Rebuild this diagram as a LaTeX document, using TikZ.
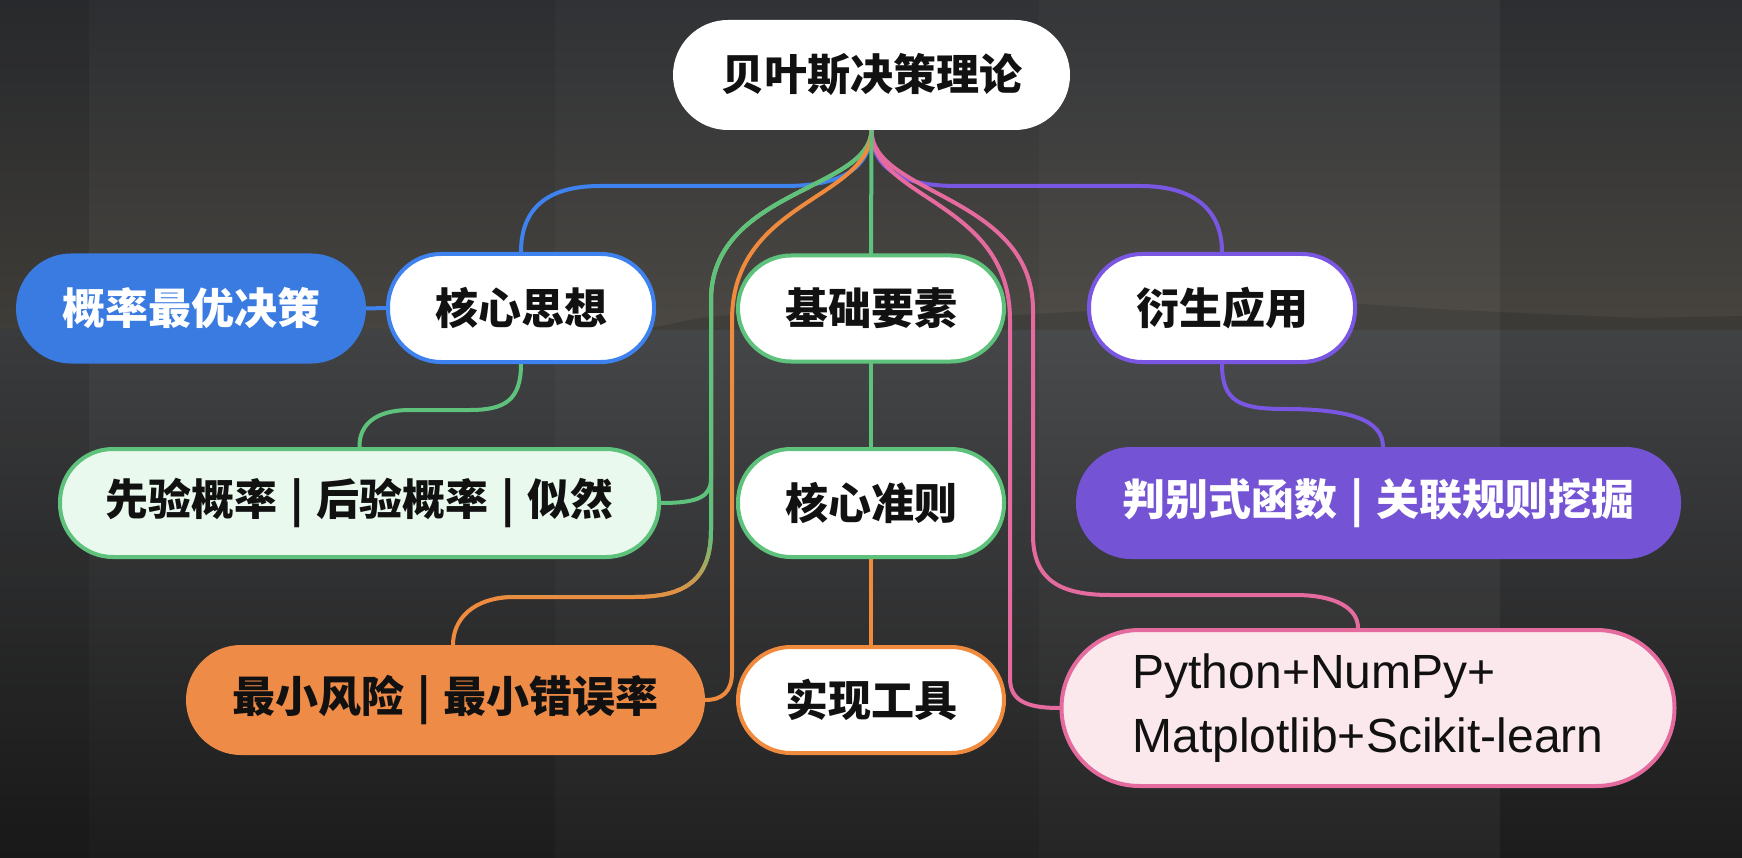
\documentclass[tikz,border=0pt]{standalone}
\usepackage{fontspec}
\setmainfont{Noto Sans CJK SC}
\newfontfamily\latinf{Liberation Sans}
\pgfdeclarelayer{bgimg}
\pgfdeclarelayer{links}
\pgfsetlayers{bgimg,links,main}
\definecolor{cblue}{HTML}{3D82EE}
\definecolor{cbluefill}{HTML}{3A7BE2}
\definecolor{cgreen}{HTML}{5EC27C}
\definecolor{cgreenfill}{HTML}{EAF9EE}
\definecolor{corange}{HTML}{F08B3E}
\definecolor{corangefill}{HTML}{EE8B47}
\definecolor{cpurple}{HTML}{7A57E3}
\definecolor{cpurplefill}{HTML}{7453D4}
\definecolor{cpink}{HTML}{E56B9F}
\definecolor{cpinkfill}{HTML}{FBE8ED}
\definecolor{ctext}{HTML}{111111}
\definecolor{bgtop}{HTML}{2C2E31}
\definecolor{bghor}{HTML}{47443F}
\definecolor{bgwater}{HTML}{414244}
\definecolor{bgbot}{HTML}{1C1C1C}
\definecolor{bgmount}{HTML}{3A3835}
\newcommand\cjkbig{\fontsize{43}{50}\selectfont\bfseries}
\newcommand\mysep{\hspace{13pt}|\hspace{13pt}}
\tikzset{
  pill/.style={rectangle, rounded corners=53pt, minimum height=106pt, inner sep=0pt,
    line width=4pt, font=\cjkbig, text=ctext},
  link/.style={line width=4pt, line cap=round}
}
\begin{document}
\begin{tikzpicture}[x=1pt,y=-1pt]
\useasboundingbox (0,0) rectangle (1742,858);
% background
\begin{pgfonlayer}{bgimg}
\shade[top color=bgtop, bottom color=bghor] (0,0) rectangle (1742,330);
\shade[top color=bgwater, bottom color=bgbot] (0,330) rectangle (1742,858);
\fill[bgmount, opacity=0.8] (640,330) -- (700,318) -- (760,312) -- (820,318) -- (1000,316) -- (1180,306) -- (1300,300) -- (1420,308) -- (1540,314) -- (1640,318) -- (1742,316) -- (1742,330) -- cycle;
\fill[black, opacity=0.10] (0,0) rectangle (89,858);
\fill[white, opacity=0.025] (555,0) rectangle (1039,858);
\fill[white, opacity=0.045] (1039,0) rectangle (1500,858);
\end{pgfonlayer}

% nodes
\node[pill, draw=white, fill=white, minimum width=393pt] (root) at (871.5,75) {贝叶斯决策理论};
\node[pill, draw=cbluefill, fill=cbluefill, text=white, minimum width=346pt] (gailv) at (191,308.5) {概率最优决策};
\node[pill, draw=cblue, fill=white, minimum width=266pt, minimum height=108pt] (hexin) at (521,308) {核心思想};
\node[pill, draw=cgreen, fill=white, minimum width=266pt] (jichu) at (871,308.5) {基础要素};
\node[pill, draw=cpurple, fill=white, minimum width=266pt, minimum height=108pt] (yansheng) at (1222,308) {衍生应用};
\node[pill, draw=cgreen, fill=cgreenfill, minimum width=599pt, minimum height=108pt] (xianyan) at (359.5,503) {先验概率\mysep 后验概率\mysep 似然};
\node[pill, draw=cgreen, fill=white, minimum width=266pt, minimum height=108pt] (zhunze) at (871,503) {核心准则};
\node[pill, draw=cpurplefill, fill=cpurplefill, text=white, minimum width=601pt, minimum height=108pt] (panbie) at (1378.5,503) {判别式函数\mysep 关联规则挖掘};
\node[pill, draw=corangefill, fill=corangefill, minimum width=515pt] (zuixiao) at (445.5,700) {最小风险\mysep 最小错误率};
\node[pill, draw=corange, fill=white, minimum width=266pt] (shixian) at (871,700) {实现工具};
\node[pill, draw=cpink, fill=cpinkfill, minimum width=613pt, minimum height=156pt, rounded corners=78pt,
  font=\latinf\fontsize{48}{64}\selectfont, align=left] (python) at (1368,708) {Python+NumPy+\\Matplotlib+Scikit-learn};

% connectors
\begin{pgfonlayer}{links}
\newcommand\routeB{(root.south) .. controls (871,190) and (711,190) .. (711,300) -- (711,530) .. controls (711,580) and (685,597) .. (635,597) -- (515,597) .. controls (472,597) and (453,620) .. ([xshift=7.5pt]zuixiao.north)}
% blue
\draw[link, cblue] (root.south) .. controls (871,172) and (835,186) .. (785,186) -- (600,186) .. controls (540,186) and (521,215) .. (hexin.north);
\draw[link, cblue] (gailv.east) -- (hexin.west);
% purple
\draw[link, cpurple] (root.south) .. controls (871,172) and (907,186) .. (957,186) -- (1140,186) .. controls (1200,186) and (1222,215) .. (yansheng.north);
\draw[link, cpurple] (yansheng.south) .. controls (1222,402) and (1240,409) .. (1285,409) .. controls (1350,409) and (1383,420) .. ([xshift=4.5pt]panbie.north);
% green/orange gradient route to 最小风险 top
\draw[link, corange] \routeB;
\begin{scope}
  \clip (0,0) rectangle (1742,540);
  \draw[link, cgreen] \routeB;
\end{scope}
\foreach \i/\c in {0/88,1/75,2/62,3/50,4/37,5/25,6/12} {
  \begin{scope}
    \clip (0,540+\i*8) rectangle (1742,548+\i*8);
    \draw[link, cgreen!\c!corange] \routeB;
  \end{scope}
}
% green to 先验 right
\draw[link, cgreen] (root.south) .. controls (871,190) and (711,190) .. (711,300) -- (711,478) .. controls (711,496) and (700,503) .. (xianyan.east);
% green from 核心思想 to 先验 top
\draw[link, cgreen] (hexin.south) .. controls (521,400) and (505,410) .. (470,410) -- (410,410) .. controls (375,410) and (359,425) .. (xianyan.north);
% orange to 最小风险 right
\draw[link, corange] (root.south) .. controls (871,200) and (732,200) .. (732,320) -- (732,672) .. controls (732,692) and (722,700) .. (zuixiao.east);
% pink
\draw[link, cpink] (root.south) .. controls (871,200) and (1010,200) .. (1010,320) -- (1010,678) .. controls (1010,700) and (1025,708) .. (python.west);
\draw[link, cpink] (root.south) .. controls (871,195) and (1033,195) .. (1033,310) -- (1033,535) .. controls (1033,580) and (1060,595) .. (1110,595) -- (1295,595) .. controls (1335,595) and (1358,608) .. ([xshift=-10pt]python.north);
% center column
\draw[link, cgreen] (root.south) -- (jichu.north);
\draw[link, cgreen] (jichu.south) -- (zhunze.north);
\draw[link, corange] (zhunze.south) -- (shixian.north);
\end{pgfonlayer}
\end{tikzpicture}
\end{document}
